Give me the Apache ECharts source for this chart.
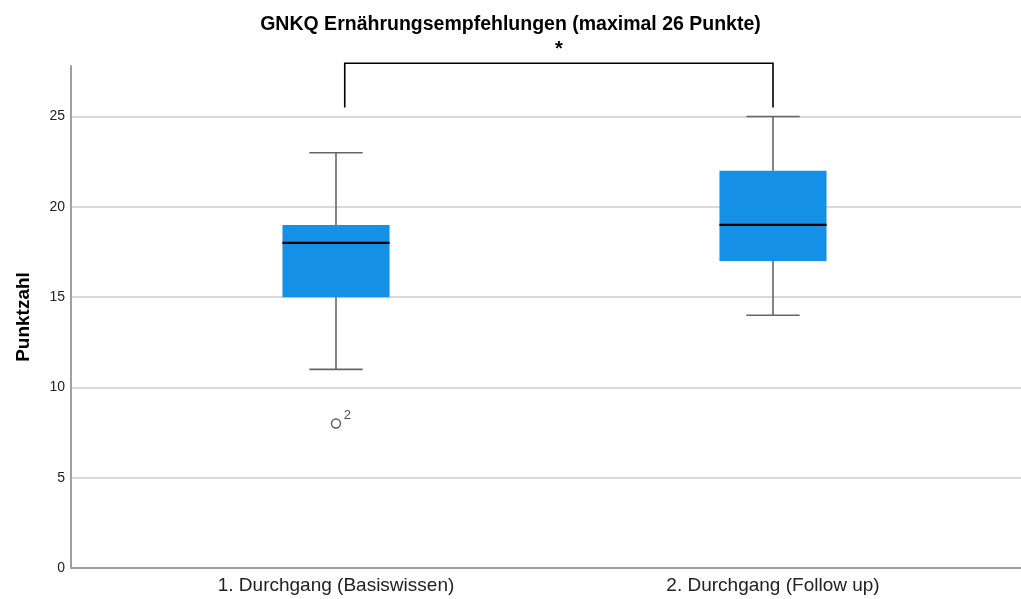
<!DOCTYPE html>
<html>
<head>
<meta charset="utf-8">
<script src="https://cdn.jsdelivr.net/npm/echarts@6/dist/echarts.min.js"></script>
<style>
  html, body { margin: 0; padding: 0; background: #fff; }
  #chart { width: 1021px; height: 599px; }
</style>
</head>
<body>
<div id="chart"></div>
<script>
// Groups (x positions 1 and 2 on a value axis)
const categories = ['1. Durchgang (Basiswissen)', '2. Durchgang (Follow up)'];
// [x, lower whisker, Q1, median, Q3, upper whisker]
const boxData = [
  [1, 11, 15, 18, 19, 23],
  [2, 14, 17, 19, 22, 25]
];
// Outliers: [x, value, case number]
const outliers = [[1, 8, '2']];
// Significance bracket: [x from, x to, leg bottom, bar height]
const bracket = [[1.02, 2.0, 25.5, 27.95]];
const yTicks = [0, 5, 10, 15, 20, 25];

const FONT = '"Liberation Sans", Arial, sans-serif';
const BOX_W = 0.245;   // box width in x-axis units
const CAP_W = 0.122;   // whisker cap width in x-axis units

const chart = echarts.init(document.getElementById('chart'));

function renderBox(params, api) {
  const x = api.value(0);
  const lo = api.coord([x, api.value(1)]);
  const q1 = api.coord([x, api.value(2)]);
  const med = api.coord([x, api.value(3)]);
  const q3 = api.coord([x, api.value(4)]);
  const hi = api.coord([x, api.value(5)]);
  const bw = api.size([BOX_W, 0])[0];
  const cw = api.size([CAP_W, 0])[0];
  const cx = q1[0];
  const whisk = { stroke: '#666666', lineWidth: 1.6 };
  return {
    type: 'group',
    children: [
      { type: 'line', shape: { x1: cx, y1: hi[1], x2: cx, y2: q3[1] }, style: whisk },
      { type: 'line', shape: { x1: cx, y1: q1[1], x2: cx, y2: lo[1] }, style: whisk },
      { type: 'line', shape: { x1: cx - cw / 2, y1: hi[1], x2: cx + cw / 2, y2: hi[1] }, style: whisk },
      { type: 'line', shape: { x1: cx - cw / 2, y1: lo[1], x2: cx + cw / 2, y2: lo[1] }, style: whisk },
      { type: 'rect', shape: { x: cx - bw / 2, y: q3[1], width: bw, height: q1[1] - q3[1] },
        style: { fill: '#1490e6', stroke: null } },
      { type: 'line', shape: { x1: cx - bw / 2, y1: med[1], x2: cx + bw / 2, y2: med[1] },
        style: { stroke: '#000000', lineWidth: 2.2 } }
    ]
  };
}

function renderBracket(params, api) {
  const a = api.coord([api.value(0), api.value(3)]);
  const b = api.coord([api.value(1), api.value(3)]);
  const aLow = api.coord([api.value(0), api.value(2)]);
  const bLow = api.coord([api.value(1), api.value(2)]);
  const midX = (a[0] + b[0]) / 2;
  return {
    type: 'group',
    children: [
      { type: 'polyline',
        shape: { points: [[aLow[0], aLow[1]], [a[0], a[1]], [b[0], b[1]], [bLow[0], bLow[1]]] },
        style: { stroke: '#000000', lineWidth: 1.6, fill: null } },
      { type: 'text',
        style: { x: midX, y: a[1] - 4, text: '*', align: 'center', verticalAlign: 'bottom',
                 font: 'bold 20px ' + FONT, fill: '#000000' } }
    ]
  };
}

chart.setOption({
  animation: false,
  backgroundColor: '#ffffff',
  title: {
    text: 'GNKQ Ernährungsempfehlungen (maximal 26 Punkte)',
    left: 'center',
    top: 10,
    textStyle: { fontFamily: FONT, fontSize: 19.5, fontWeight: 'bold', color: '#000' }
  },
  grid: { left: 71, right: 0, top: 66, bottom: 31, containLabel: false },
  xAxis: {
    type: 'value',
    min: 0.3936,
    max: 2.5675,
    axisLine: { show: true, lineStyle: { color: '#a0a0a0', width: 2 } },
    axisTick: { show: false },
    splitLine: { show: false },
    axisLabel: {
      customValues: [1, 2],
      formatter: v => categories[Math.round(v) - 1] || '',
      fontFamily: FONT, fontSize: 19, color: '#222', margin: 8
    }
  },
  yAxis: {
    type: 'value',
    min: 0,
    max: 27.8,
    interval: 5,
    name: 'Punktzahl',
    nameLocation: 'middle',
    nameGap: 38,
    nameTextStyle: { fontFamily: FONT, fontSize: 19, fontWeight: 'bold', color: '#000' },
    axisLine: { show: true, lineStyle: { color: '#a0a0a0', width: 2 } },
    axisTick: { show: false, customValues: yTicks },
    splitLine: { show: true, lineStyle: { color: '#cccccc', width: 1.5 } },
    axisLabel: {
      customValues: yTicks,
      fontFamily: FONT, fontSize: 14, color: '#222', margin: 6
    }
  },
  series: [
    {
      type: 'custom',
      renderItem: renderBox,
      encode: { x: 0, y: [1, 2, 3, 4, 5] },
      data: boxData,
      z: 3
    },
    {
      type: 'scatter',
      data: outliers,
      symbol: 'circle',
      symbolSize: 9,
      itemStyle: { color: '#ffffff', borderColor: '#333333', borderWidth: 1.4 },
      label: {
        show: true,
        formatter: p => p.data[2],
        position: [13, -9],
        fontFamily: FONT, fontSize: 13, color: '#222'
      },
      z: 4
    },
    {
      type: 'custom',
      renderItem: renderBracket,
      encode: { x: [0, 1], y: [2, 3] },
      data: bracket,
      clip: false,
      z: 5
    }
  ]
});
</script>
</body>
</html>
